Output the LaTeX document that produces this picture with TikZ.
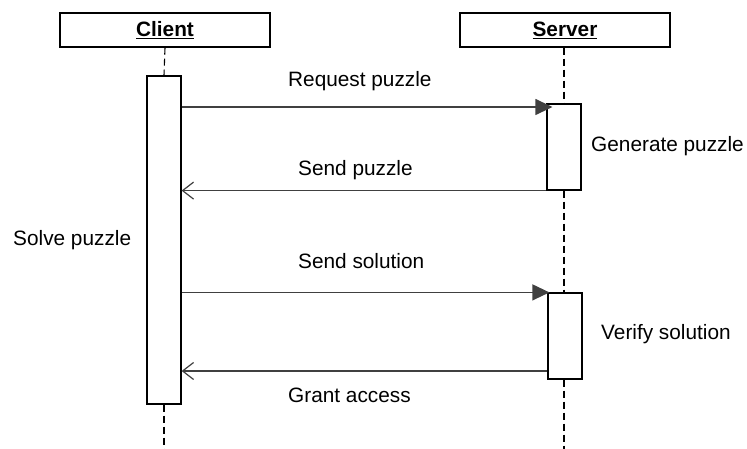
\documentclass[tikz,border=0pt]{standalone}
\usepackage{fontspec}
\setmainfont{Liberation Sans}
\usetikzlibrary{arrows.meta,backgrounds}
\begin{document}
\begin{tikzpicture}[x=1pt,y=-1pt,
  head/.style={draw=black,line width=1.2pt,fill=white,inner sep=0pt,minimum width=210pt,minimum height=34pt,font=\fontsize{20.8}{25}\selectfont\bfseries},
  act/.style={draw=black,line width=1.2pt,fill=white,inner sep=0pt,minimum width=34pt},
  lbl/.style={font=\fontsize{20.8}{25}\selectfont,inner sep=0pt,anchor=base west},
  life/.style={line width=1.1pt,dash pattern=on 7pt off 4pt},
  msg/.style={draw=black!75,line width=1.2pt},
  call/.style={msg,-{Triangle[length=17pt,width=16pt]}},
  ret/.style={msg,-{Straight Barb[length=11pt,width=17pt,line width=1.2pt]}}]
\useasboundingbox (0,0) rectangle (747,449);

\node[head] (client) at (165,30) {\underline{Client}};
\node[head] (server) at (565,30) {\underline{Server}};

\node[act,minimum height=328pt] (ca) at (164,240) {};
\node[act,minimum height=86pt] (sa1) at (564,147) {};
\node[act,minimum height=86pt] (sa2) at (565,336) {};

\coordinate (cend) at (164,449);
\coordinate (send) at (564,449);
\coordinate (y1) at (0,107);
\coordinate (y4) at (0,371);

\begin{scope}[on background layer]
\draw[life] (client.south) -- (ca.north);
\draw[life] (ca.south) -- (cend);
\draw[life] (server.south -| sa1.north) -- (sa1.north);
\draw[life] (sa1.south) -- (sa2.north -| sa1.south);
\draw[life] (sa2.south -| send) -- (send);
\end{scope}

\draw[call] (ca.east |- y1) -- ([xshift=6pt]sa1.west |- y1);
\draw[ret] (sa1.south west) -- (ca.east |- sa1.south west);
\draw[call] (ca.east |- sa2.north west) -- ([xshift=2pt]sa2.north west);
\draw[ret] (sa2.west |- y4) -- (ca.east |- y4);

\node[lbl] (l1) at (288,87) {Request puzzle};
\node[lbl] (l2) at (298,176) {Send puzzle};
\node[lbl] (l3) at (591,152) {Generate puzzle};
\node[lbl] (l4) at (13,246) {Solve puzzle};
\node[lbl] (l5) at (298,269) {Send solution};
\node[lbl] (l6) at (601,339) {Verify solution};
\node[lbl] (l7) at (288,402) {Grant access};
\end{tikzpicture}
\end{document}
